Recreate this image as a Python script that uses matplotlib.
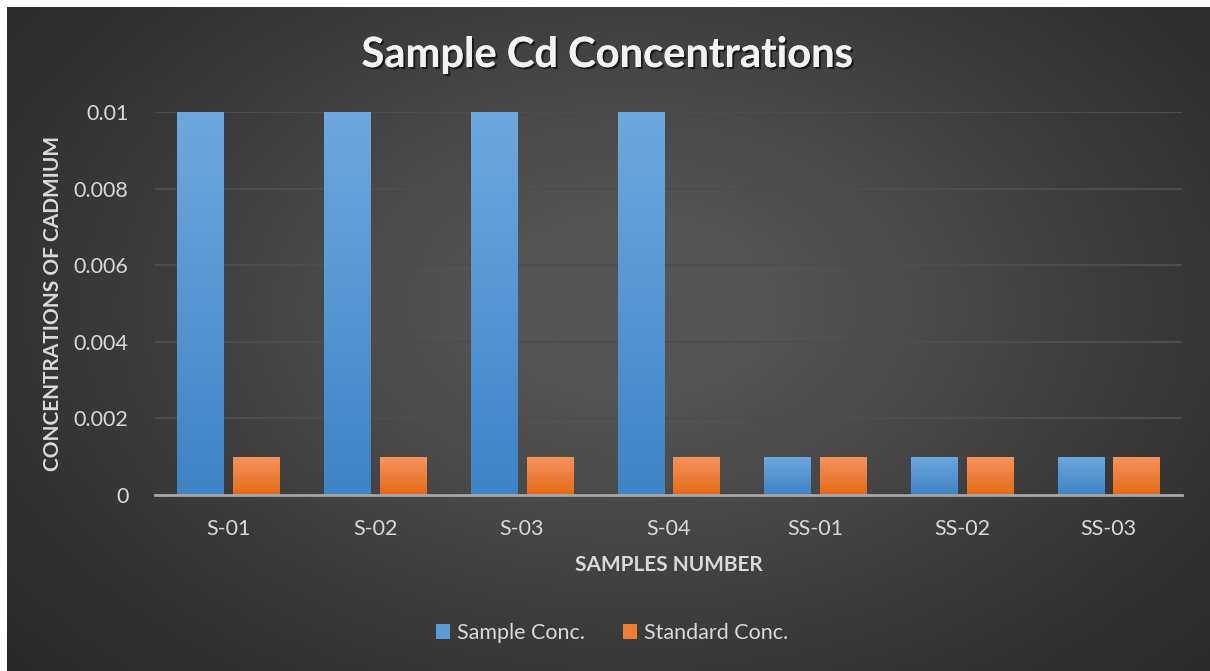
import numpy as np
import matplotlib.pyplot as plt
import matplotlib.patheffects as pe
from matplotlib.colors import LinearSegmentedColormap
from matplotlib.patches import Patch

samples = ["S-01", "S-02", "S-03", "S-04", "SS-01", "SS-02", "SS-03"]
sample_conc = [0.01, 0.01, 0.01, 0.01, 0.001, 0.001, 0.001]
standard_conc = [0.001, 0.001, 0.001, 0.001, 0.001, 0.001, 0.001]
yticks = [0, 0.002, 0.004, 0.006, 0.008, 0.01]
ytick_labels = ["0", "0.002", "0.004", "0.006", "0.008", "0.01"]

plt.rcParams['font.family'] = ['Lato', 'DejaVu Sans']
W, H = 1210, 671
fig = plt.figure(figsize=(W / 100, H / 100), dpi=100, facecolor='white')

# dark radial background, lighter toward the middle
bg = fig.add_axes([7 / W, 0, 1 - 7 / W, 1 - 7 / H])
yy, xx = np.mgrid[0:1:300j, 0:1:540j]
r = np.sqrt(((xx - 0.52) / 0.75) ** 2 + ((yy - 0.45) / 0.9) ** 2)
shade = np.clip(1 - r, 0, 1)
bg_cmap = LinearSegmentedColormap.from_list('bg', ['#242424', '#3a3a3a', '#555555'])
bg.imshow(shade, cmap=bg_cmap, aspect='auto', extent=[0, 1, 0, 1], vmin=0, vmax=0.85)
bg.set_axis_off()

ax = fig.add_axes([155 / W, 1 - 495 / H, 1027 / W, 383 / H])
ax.patch.set_alpha(0)
x = np.arange(len(samples))
bw = 0.315
off = 0.19

blue_cmap = LinearSegmentedColormap.from_list('b', ['#3f84c6', '#6da7de'])
orange_cmap = LinearSegmentedColormap.from_list('o', ['#e56a16', '#f59460'])
grad = np.linspace(0, 1, 100).reshape(-1, 1)

def gradient_bars(xpos, vals, cmap, face):
    bars = ax.bar(xpos, vals, bw, color=face, zorder=3)
    for b in bars:
        x0, y0 = b.get_x(), b.get_y()
        im = ax.imshow(grad, cmap=cmap, origin='lower', aspect='auto',
                       extent=[x0, x0 + b.get_width(), y0, y0 + b.get_height()],
                       zorder=3.5)
        im.set_clip_path(b)
    return bars

gradient_bars(x - off, sample_conc, blue_cmap, '#5b9bd5')
gradient_bars(x + off, standard_conc, orange_cmap, '#ed7d31')

ax.set_xlim(-0.5, len(samples) - 0.5)
ax.set_ylim(0, 0.01)
ax.set_yticks(yticks)
ax.set_yticklabels(ytick_labels)
ax.set_xticks(x)
ax.set_xticklabels(samples)
ax.grid(axis='y', color='#4d4d4d', linewidth=1.5, zorder=0)
ax.tick_params(colors='#d9d9d9', labelsize=15.5, length=0)
ax.tick_params(axis='y', pad=19)
ax.tick_params(axis='x', pad=17)
for s in ['top', 'right', 'left']:
    ax.spines[s].set_visible(False)
ax.spines['bottom'].set_color('#a6a6a6')
ax.spines['bottom'].set_linewidth(2)
ax.spines['bottom'].set_zorder(5)

ax.set_xlabel("SAMPLES NUMBER", color='#d9d9d9', fontsize=15, fontweight='bold', labelpad=12)
ax.set_ylabel("CONCENTRATIONS OF CADMIUM", color='#d9d9d9', fontsize=15, fontweight='bold', labelpad=8)

fig.text(607 / W, 1 - 55 / H, "Sample Cd Concentrations", ha='center', va='center',
         fontsize=30, fontweight='bold', color='#f2f2f2',
         path_effects=[pe.withSimplePatchShadow(offset=(1.5, -1.5), shadow_rgbFace='black', alpha=0.6),
                       pe.Normal()])

handles = [Patch(facecolor='#5b9bd5', label='Sample Conc.'),
           Patch(facecolor='#ed7d31', label='Standard Conc.')]
fig.legend(handles=handles, loc='center', bbox_to_anchor=(612 / W, 1 - 633 / H), ncol=2,
           frameon=False, fontsize=15.5, labelcolor='#d9d9d9', handlelength=0.65,
           handleheight=0.65, handletextpad=0.3, columnspacing=1.8)

fig.savefig('out.png', dpi=100, facecolor='white')
